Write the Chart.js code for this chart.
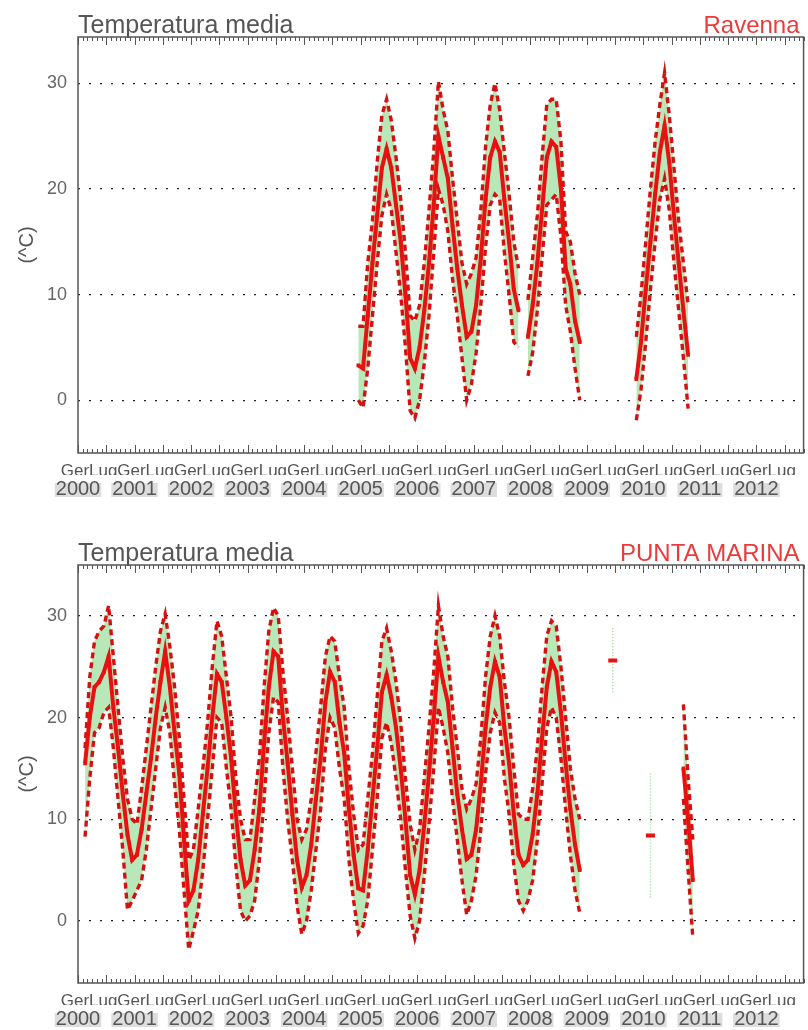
<!DOCTYPE html>
<html><head><meta charset="utf-8">
<script src="https://cdn.jsdelivr.net/npm/chart.js@4"></script>
<style>
html,body{margin:0;padding:0;background:#fff;}
.box{position:absolute;left:0;width:808px;}
#b1{top:0;height:505px;}
#b2{top:528px;height:502px;}
</style></head><body>
<div id="b1" class="box"><canvas id="c1"></canvas></div>
<div id="b2" class="box"><canvas id="c2"></canvas></div>
<script>
const N = null;
// x axis: months since Jan 2000
const yearLabels = ['2000','2001','2002','2003','2004','2005','2006','2007','2008','2009','2010','2011','2012'];
const monthLabels = ['Ger','Lug'];
const yTicks = [0,10,20,30];
const titleText = 'Temperatura media';
const stations = ['Ravenna','PUNTA MARINA'];

// ---- Ravenna (monthly, 12 per row starting Jan 2000) ----
const ravMean = [
 N,N,N,N,N,N,N,N,N,N,N,N,
 N,N,N,N,N,N,N,N,N,N,N,N,
 N,N,N,N,N,N,N,N,N,N,N,N,
 N,N,N,N,N,N,N,N,N,N,N,N,
 N,N,N,N,N,N,N,N,N,N,N,3.3,
 3,8,13,17.5,22,23.8,22,18.5,15,10,4,3,
 5,8.5,13,18.5,25,23,21,16.5,12.5,9,6,6.5,
 9,13.5,19,23,24.5,23.5,19,15,10.5,8.5,N,6,
 9,13,18,23,24.5,24,20,12.5,11,7.5,5.5,N,
 N,N,N,N,N,N,N,N,N,N,2,5.5,
 10.5,15,19.5,23.5,26,22.5,17.5,13,8.5,4.3,N,N,
 N,N,N,N,N,N,N,N,N,N,N,N,
 N,N,N,N,N,N,N,N,N,N,N
];
const ravMin = [
 N,N,N,N,N,N,N,N,N,N,N,N,
 N,N,N,N,N,N,N,N,N,N,N,N,
 N,N,N,N,N,N,N,N,N,N,N,N,
 N,N,N,N,N,N,N,N,N,N,N,N,
 N,N,N,N,N,N,N,N,N,N,N,0,
 -0.7,3,8,13,17.5,19.5,18,14,10,5,-1,-1.7,
 0,3.5,8,14,20,18.5,16,11.5,8,4,0,1.5,
 4.5,9,14.5,18.5,19.5,19,14,10,5.5,5,N,2.3,
 4.5,8.5,13.5,18.5,19,19.5,15.5,9,6.5,3,0,N,
 N,N,N,N,N,N,N,N,N,N,-1.9,1,
 5.5,10.5,15,19,21,18,13,8.5,4,-0.8,N,N,
 N,N,N,N,N,N,N,N,N,N,N,N,
 N,N,N,N,N,N,N,N,N,N,N
];
const ravMax = [
 N,N,N,N,N,N,N,N,N,N,N,N,
 N,N,N,N,N,N,N,N,N,N,N,N,
 N,N,N,N,N,N,N,N,N,N,N,N,
 N,N,N,N,N,N,N,N,N,N,N,N,
 N,N,N,N,N,N,N,N,N,N,N,7,
 7,13,17,22.5,27,28.5,26.5,23,19,14,8,7.5,
 9,13,18,23.5,30.2,27.5,25.5,21,17,13,11,12,
 13.5,18,24,28,30,27.5,23.5,19.5,15,12.5,N,9.5,
 13.5,17.5,23,28,28.5,28.5,24.5,16,15,12,10,N,
 N,N,N,N,N,N,N,N,N,N,6,10,
 15,20,24.5,28,31,27,22,17,13,9,N,N,
 N,N,N,N,N,N,N,N,N,N,N,N,
 N,N,N,N,N,N,N,N,N,N,N
];

// ---- Punta Marina ----
const pmMean = [
 N,15.5,20,23,23.5,24.5,26,21,17,12.5,8.5,6,
 6.5,9,12.5,16,20,23.5,26.5,23,18.5,14.5,8,2,
 3,6,10.5,15,20,24.3,23.5,20,16,10.5,6,3.5,
 4,7,11,17.5,23,26.5,26,20,15.5,10.5,6,3.3,
 4.5,7.5,12,16,21.5,24.5,23.5,19.5,16.5,11,6.5,3.2,
 3,7,12,17,22.5,24.2,22,19,15,10,4.5,2.6,
 5,9.5,14.5,20,26,23.5,21.5,17,12.5,9,6.1,6.5,
 9,13.5,19,23,25.5,24,19,15.5,10.5,6.5,5.5,6,
 8.5,12.5,18,23,25.5,24.5,20.5,15.5,11,7.5,5,N,
 N,N,N,N,N,25.6,N,N,N,N,N,N,
 N,8.4,N,N,N,N,N,N,15,10,4,N,
 N,N,N,N,N,N,N,N,N,N,N,N,
 N,N,N,N,N,N,N,N,N,N,N
];
const pmMin = [
 N,8.3,14,18.5,19,20.5,21,17,12,7,1.1,2,
 3,4,7,11,15,19,21,18.5,13.5,9,3,-2.8,
 -1,1,5,10,15,20,19.5,15,11,5.5,1,0,
 0.5,2,6,12,18.5,22,21.5,15,10,6,1.5,-1.3,
 0,3,7,11,17,20,19,15,12,6,2,-1.2,
 -0.5,2,7,12,18,19.5,17.5,14,10,5,0.5,-1.7,
 0,4.5,9.5,15,21,19,16.5,12,8,4,0.6,2,
 4.5,9,14.5,18.5,20.5,19.5,14,10.5,5.5,2,1,2,
 4,8,13.5,19,21,20,16,11,6.5,3,0.8,N,
 N,N,N,N,N,22.5,N,N,N,N,N,N,
 N,2.3,N,N,N,N,N,N,12,5,-1.7,N,
 N,N,N,N,N,N,N,N,N,N,N,N,
 N,N,N,N,N,N,N,N,N,N,N
];
const pmMax = [
 N,17,24,27.5,28.5,29,31,26,21,16,12,10,
 9.5,13,17,21,25,28.5,30.2,27,23,18,12,6,
 7,11,15,19.5,25,29.5,28,24,20,14,10,8,
 8,12,16,23,28.5,30.8,30,24.5,20,15,10,8,
 9,12,16.5,21,26,28,27.5,24,21,15,10.5,7,
 7.5,12,16.5,22,27.5,28.8,26.5,23.5,19.5,14,9.5,7,
 9,14,19,24.5,31,28,26,21,17,13,11,12,
 13.5,18,24,28,30,28,23.5,20,15,10.5,10,10,
 13,17,23,28,29.5,29,25,20,15,12,10,N,
 N,N,N,N,N,28.8,N,N,N,N,N,N,
 N,14.5,N,N,N,N,N,N,21.3,14,8,N,
 N,N,N,N,N,N,N,N,N,N,N,N,
 N,N,N,N,N,N,N,N,N,N,N
];

const X_MAX = 154;
const FONT = '"Liberation Sans", Arial, Helvetica, sans-serif';
Chart.defaults.font.family = FONT;

function pts(arr){ return arr.map((v,i)=>({x:i+0.5, y:v})); }
function isIso(arr,i){ return arr[i]!=null && arr[i-1]==null && arr[i+1]==null; }
function ranges(mean,mn,mx){
  const out=[];
  mean.forEach((v,i)=>{ if(isIso(mean,i)){ out.push({x:i+0.5,y:mn[i]},{x:i+0.5,y:mx[i]},{x:i+0.5,y:null}); } });
  return out;
}

const framePlugin = {
  id:'frame',
  afterDraw(chart, args, opts){
    const {ctx, chartArea:a} = chart; const x = chart.scales.x;
    ctx.save();
    ctx.strokeStyle='#555'; ctx.lineWidth=1;
    ctx.beginPath();
    for(let m=0;m<=X_MAX;m++){
      const px=Math.round(x.getPixelForValue(m))+0.5;
      const len = m%6===0 ? 8 : 4;
      ctx.moveTo(px,a.top); ctx.lineTo(px,a.top+len);
      ctx.moveTo(px,a.bottom); ctx.lineTo(px,a.bottom-len);
    }
    ctx.stroke();
    ctx.lineWidth=1.5; ctx.strokeStyle='#555';
    ctx.strokeRect(a.left, a.top, a.right-a.left, a.bottom-a.top);
    ctx.textBaseline='alphabetic';
    ctx.font='25px '+FONT; ctx.fillStyle='#555'; ctx.textAlign='left';
    ctx.fillText(opts.title, a.left, a.top-4);
    ctx.font='24px '+FONT; ctx.fillStyle='#ea3b3b'; ctx.textAlign='right';
    ctx.fillText(opts.station, a.right-4, a.top-4);
    ctx.restore();
  }
};

function makeChart(id, station, mean, mn, mx, yMin, yMax, hMonth, hYear){
  const red='#e81010', dred='#d41010';
  new Chart(document.getElementById(id), {
    type:'line',
    data:{datasets:[
      {data:pts(mean), xAxisID:'x', yAxisID:'y', borderColor:red, borderWidth:4, spanGaps:false,
       pointStyle:mean.map((v,i)=>isIso(mean,i)?'line':'rect'),
       pointRadius:mean.map((v,i)=>isIso(mean,i)?4.5:2.6),
       pointBackgroundColor:red, pointBorderColor:red,
       pointBorderWidth:mean.map((v,i)=>isIso(mean,i)?4:0), fill:false, tension:0},
      {data:pts(mx), xAxisID:'x', yAxisID:'y', borderColor:dred, borderWidth:3.4, borderDash:[6,4], spanGaps:false,
       pointRadius:0, fill:{target:'+1'}, backgroundColor:'rgb(184,232,184)', tension:0},
      {data:pts(mn), xAxisID:'x', yAxisID:'y', borderColor:dred, borderWidth:3.4, borderDash:[6,4], spanGaps:false,
       pointRadius:0, fill:false, tension:0},
      {data:ranges(mean,mn,mx), xAxisID:'x', yAxisID:'y', borderColor:'#99d699', borderWidth:1.5, borderDash:[1,2], spanGaps:false,
       pointRadius:0, fill:false}
    ]},
    options:{
      responsive:true, maintainAspectRatio:false, animation:false, devicePixelRatio:1,
      layout:{padding:{top:37,right:3,left:0,bottom:0}},
      plugins:{legend:{display:false}, tooltip:{enabled:false}, filler:{drawTime:'beforeDatasetsDraw'},
        frame:{title:titleText, station:station}},
      scales:{
        x:{type:'linear', position:'bottom', min:0, max:X_MAX, weight:0,
          grid:{display:false, drawTicks:false}, border:{display:false},
          afterBuildTicks:s=>{ const t=[]; for(let v=0; v<X_MAX; v+=6) t.push({value:v}); s.ticks=t; },
          ticks:{z:1, autoSkip:false, maxRotation:0, minRotation:0, padding:9, labelOffset:-3, color:'#555', font:{size:17, lineHeight:1.1},
            callback:(v)=>monthLabels[Math.round(v/6)%2]},
          afterFit:s=>{ s.height=hMonth; }},
        xy:{type:'linear', position:'bottom', min:0, max:X_MAX, weight:1,
          grid:{display:false, drawTicks:false}, border:{display:false},
          afterBuildTicks:s=>{ s.ticks=yearLabels.map((_,k)=>({value:k*12})); },
          ticks:{autoSkip:false, maxRotation:0, minRotation:0, padding:4, color:'#555', font:{size:20, lineHeight:1},
            showLabelBackdrop:true, backdropColor:'#dddddd', backdropPadding:{top:-4,bottom:-2,left:1,right:1},
            callback:(v,i)=>yearLabels[i]},
          afterFit:s=>{ s.height=hYear; }},
        y:{type:'linear', position:'left', min:yMin, max:yMax,
          afterBuildTicks:s=>{ s.ticks=yTicks.map(v=>({value:v})); },
          grid:{color:'#222', lineWidth:1.3, drawTicks:false},
          border:{display:false, dash:[2,9]},
          ticks:{padding:11, color:'#666', font:{size:18}},
          title:{display:true, text:'(^C)', color:'#555', font:{size:20}, padding:{top:15,bottom:0}},
          afterFit:s=>{ s.width=78; }}
      }
    },
    plugins:[framePlugin]
  });
}

makeChart('c1', stations[0], ravMean, ravMin, ravMax, -5, 34.4, 22, 30);
makeChart('c2', stations[1], pmMean, pmMin, pmMax, -6.1, 35, 22, 25);
</script>
</body></html>
